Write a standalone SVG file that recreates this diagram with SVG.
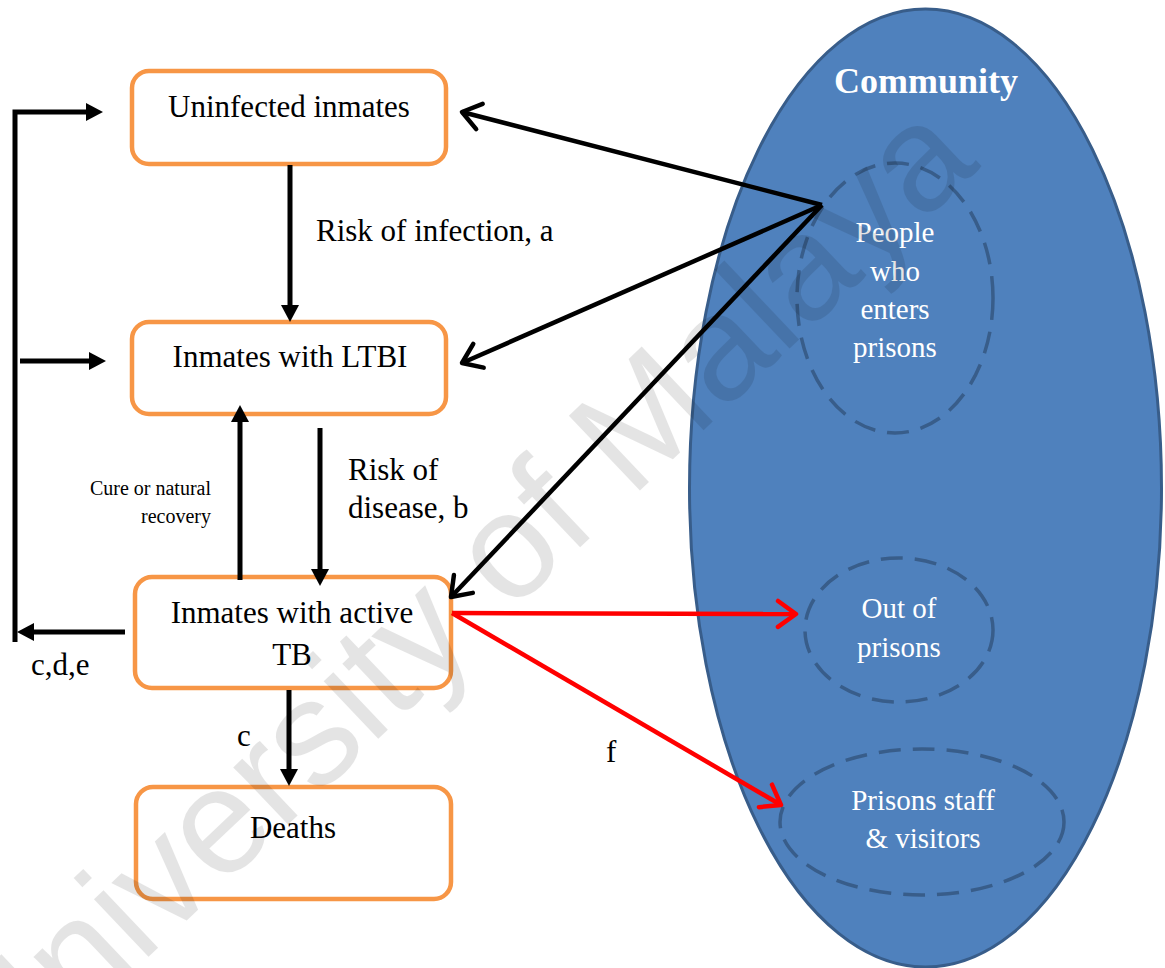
<svg xmlns="http://www.w3.org/2000/svg" width="1165" height="968" viewBox="0 0 1165 968">
<style>
text{font-family:"Liberation Serif","Tinos","Times New Roman",Times,"DejaVu Serif",serif}
.box{fill:#fff;stroke:#f79646;stroke-width:4.5}
.t{font-size:31px;fill:#000}
.tw{font-size:29px;fill:#fff;text-anchor:middle}
.mid{text-anchor:middle}
.thick{stroke:#000;stroke-width:5;fill:none}
.diag{stroke:#000;stroke-width:4.5;fill:none}
.red{stroke:#ff0000;stroke-width:4.5;fill:none}
.dash{fill:none;stroke:#385d8a;stroke-width:3.5;stroke-dasharray:22 12}
.wm{font-family:"Liberation Sans",Arial,sans-serif}
</style>
<defs>
<marker id="tri" markerUnits="userSpaceOnUse" markerWidth="20" markerHeight="20" viewBox="0 -10 20 20" refX="0" refY="0" orient="auto">
<path d="M0,-9 L17,0 L0,9 z" fill="#000"/>
</marker>
<marker id="vb" markerUnits="userSpaceOnUse" markerWidth="32" markerHeight="32" viewBox="-26 -16 32 32" refX="0" refY="0" orient="auto">
<path d="M-18,-13 L0,0 L-18,13" fill="none" stroke="#000" stroke-width="4.5" stroke-linecap="round" stroke-linejoin="round"/>
</marker>
<marker id="vr" markerUnits="userSpaceOnUse" markerWidth="32" markerHeight="32" viewBox="-26 -16 32 32" refX="0" refY="0" orient="auto">
<path d="M-18,-13 L0,0 L-18,13" fill="none" stroke="#ff0000" stroke-width="4.5" stroke-linecap="round" stroke-linejoin="round"/>
</marker>
</defs>

<g id="community">
<ellipse cx="925.5" cy="488" rx="236" ry="479" fill="#4f81bd" stroke="#385d8a" stroke-width="3"/>
<text x="926" y="93" font-size="36" font-weight="bold" fill="#fff" text-anchor="middle">Community</text>
</g>

<g id="people-entering">
<ellipse class="dash" cx="895" cy="298" rx="98" ry="135"/>
<text class="tw" x="895" y="242">People</text>
<text class="tw" x="895" y="281">who</text>
<text class="tw" x="895" y="319">enters</text>
<text class="tw" x="895" y="357">prisons</text>
</g>

<g id="out-of-prisons">
<ellipse class="dash" cx="899" cy="630" rx="94" ry="72"/>
<text class="tw" x="899" y="618">Out of</text>
<text class="tw" x="899" y="657">prisons</text>
</g>

<g id="staff-visitors">
<ellipse class="dash" cx="922" cy="822" rx="142" ry="73"/>
<text class="tw" x="923" y="810">Prisons staff</text>
<text class="tw" x="923" y="848">&amp; visitors</text>
</g>

<g id="uninfected">
<rect class="box" x="132" y="71" width="314" height="93" rx="17"/>
<text class="t mid" x="289" y="117">Uninfected inmates</text>
</g>

<g id="ltbi">
<rect class="box" x="132" y="322" width="314" height="92" rx="17"/>
<text class="t mid" x="290" y="367">Inmates with LTBI</text>
</g>

<g id="active-tb">
<rect class="box" x="135" y="577" width="316" height="111" rx="17"/>
<text class="t mid" x="292" y="623">Inmates with active</text>
<text class="t mid" x="292" y="665">TB</text>
</g>

<g id="deaths">
<rect class="box" x="136" y="787" width="315" height="112" rx="17"/>
<text class="t mid" x="293" y="838">Deaths</text>
</g>

<g id="connectors">
<path class="thick" d="M290,165 L290,305" marker-end="url(#tri)"/>
<path class="thick" d="M240,580 L240,422" marker-end="url(#tri)"/>
<path class="thick" d="M320,428 L320,569" marker-end="url(#tri)"/>
<path class="thick" d="M289,690 L289,769" marker-end="url(#tri)"/>
<path class="thick" d="M15,642 L15,112 L86,112" marker-end="url(#tri)"/>
<path class="thick" d="M20,361 L89,361" marker-end="url(#tri)"/>
<path class="thick" d="M125,632 L34,632" marker-end="url(#tri)"/>
<path class="diag" d="M822,205 L462,112" marker-end="url(#vb)"/>
<path class="diag" d="M822,205 L462,363" marker-end="url(#vb)"/>
<path class="diag" d="M822,205 L451,597" marker-end="url(#vb)"/>
<path class="red" d="M452,613 L796,614" marker-end="url(#vr)"/>
<path class="red" d="M452,613 L781,805" marker-end="url(#vr)"/>
</g>

<g id="labels">
<text class="t" x="316" y="241">Risk of infection, a</text>
<text class="t" x="348" y="480">Risk of</text>
<text class="t" x="348" y="518">disease, b</text>
<text x="211" y="495" font-size="20" text-anchor="end">Cure or natural</text>
<text x="211" y="523" font-size="20" text-anchor="end">recovery</text>
<text class="t" x="31" y="675">c,d,e</text>
<text class="t" x="237" y="746">c</text>
<text class="t" x="606" y="762">f</text>
</g>

<g id="watermark" opacity="0.1">
<text class="wm" x="0" y="0" transform="translate(492,631) rotate(-43.5)" font-size="150" text-anchor="middle" fill="#000">University of Malaya</text>
</g>
</svg>
